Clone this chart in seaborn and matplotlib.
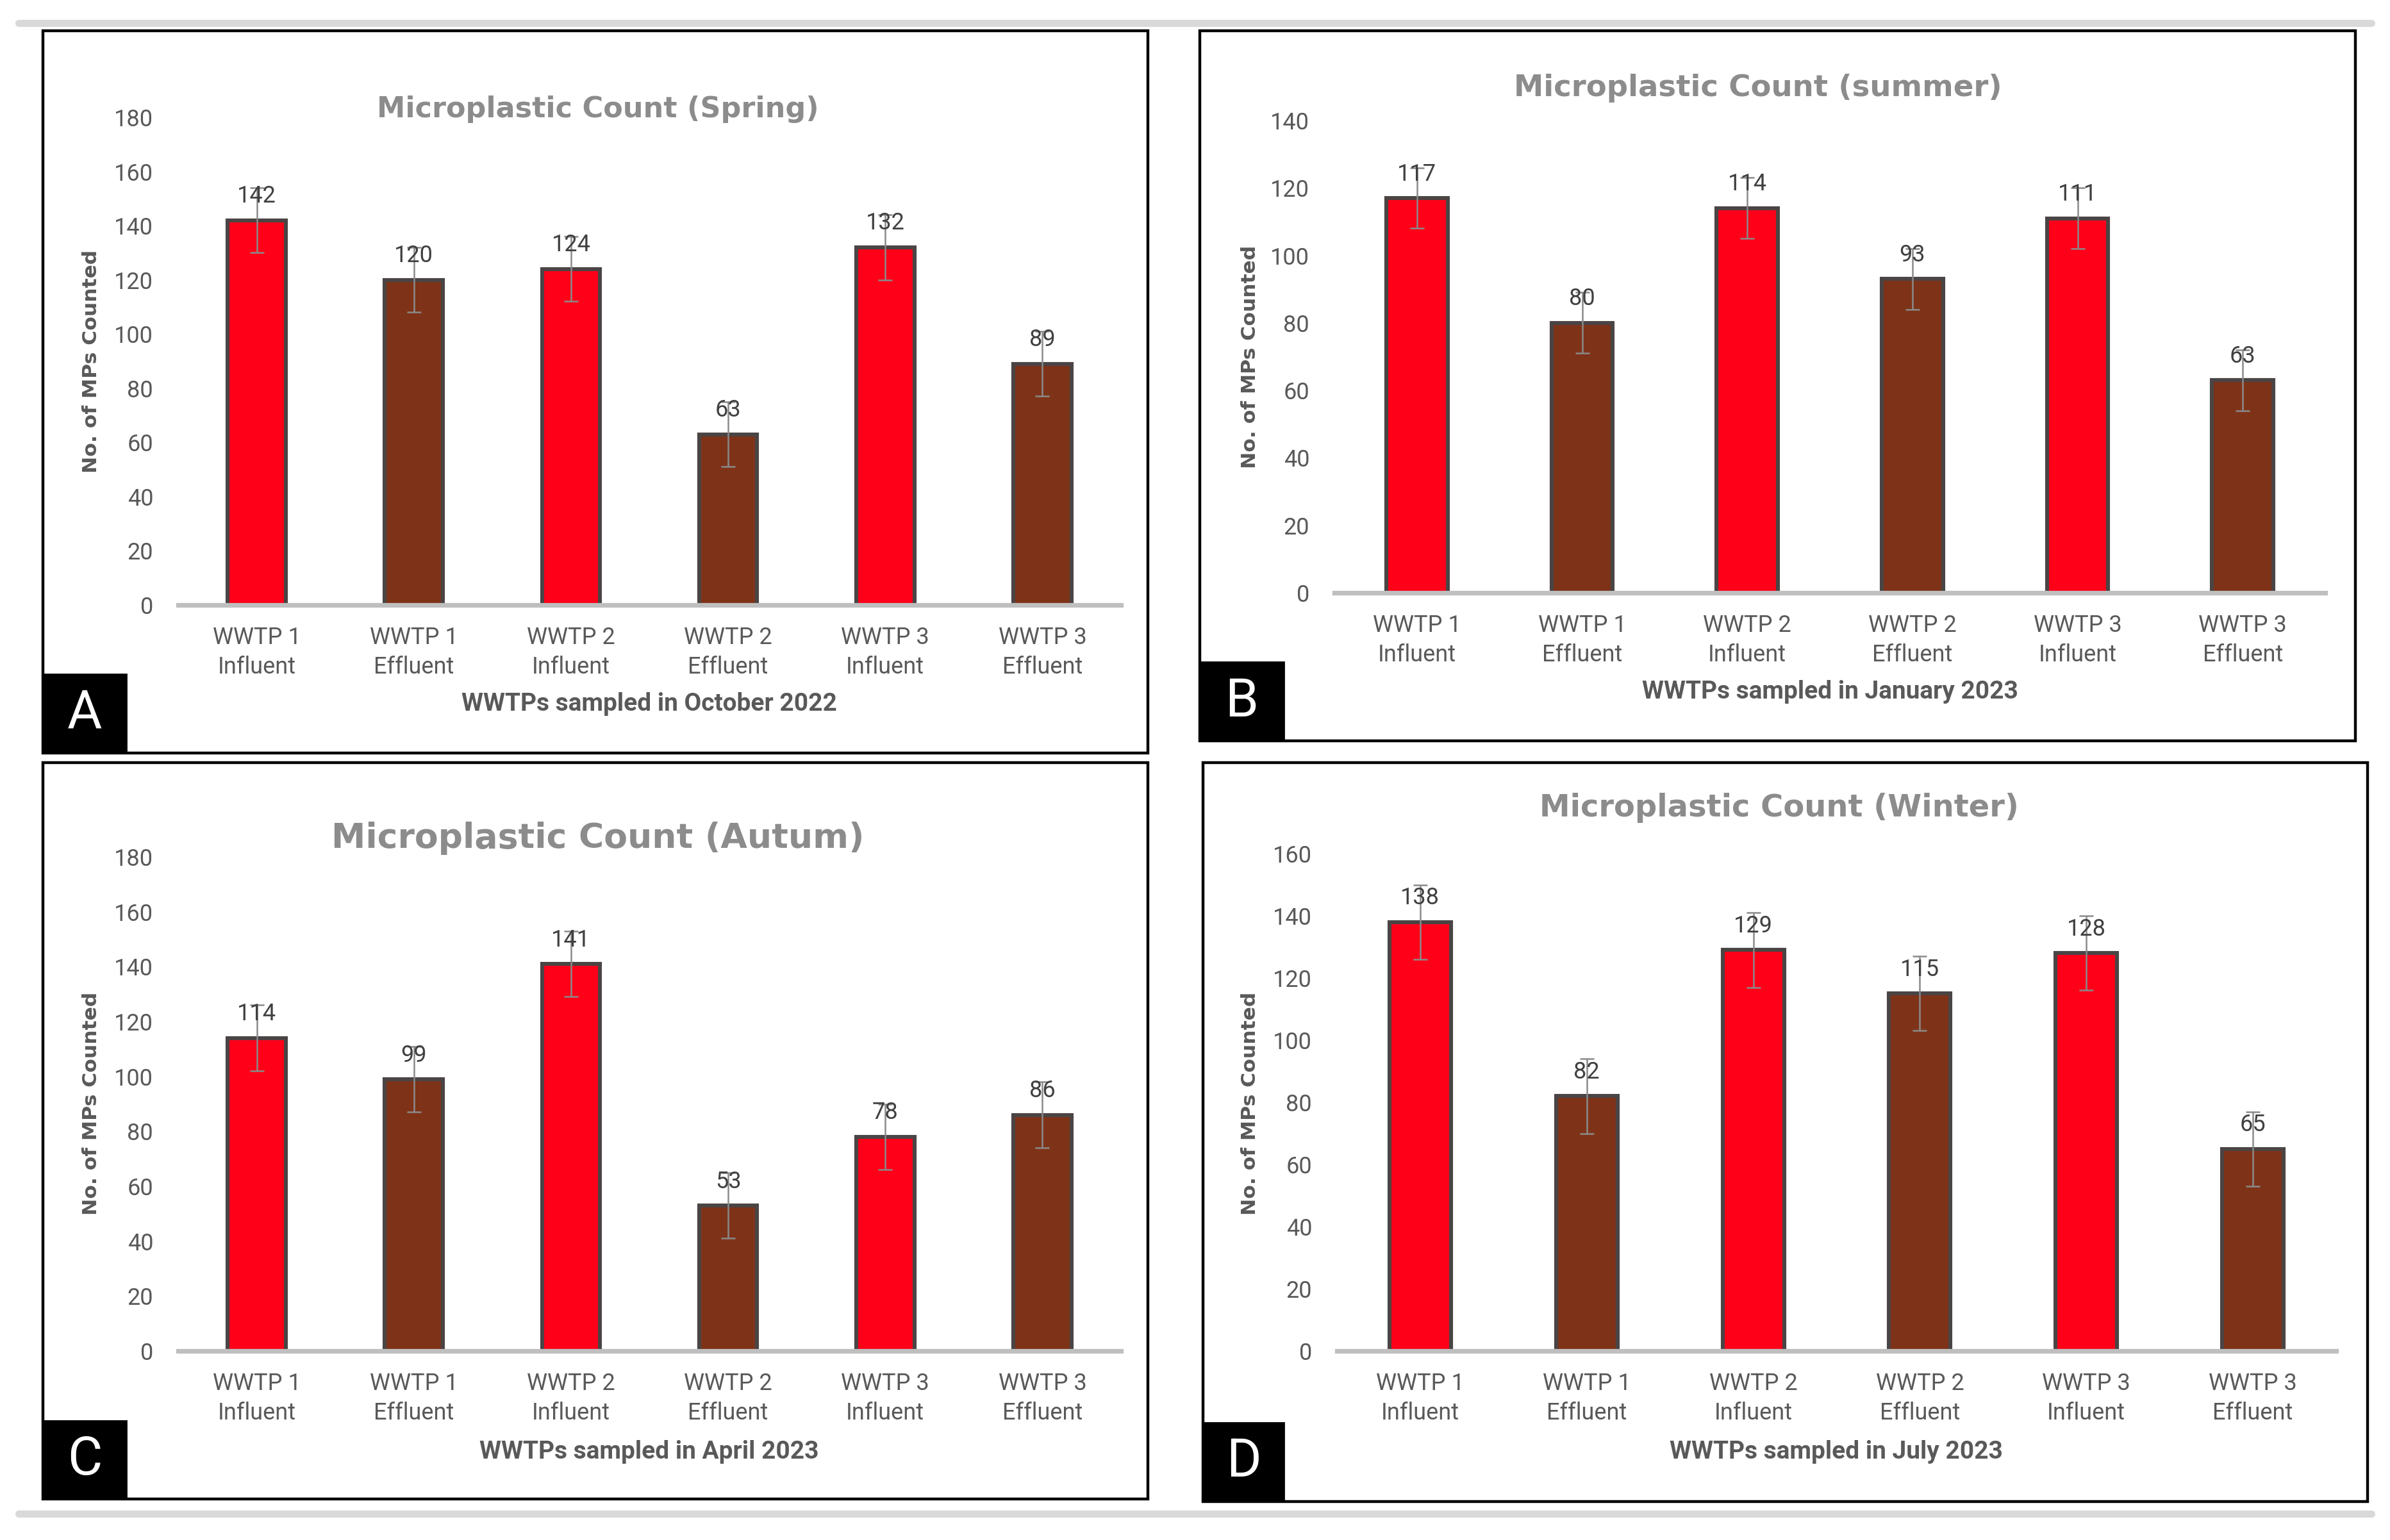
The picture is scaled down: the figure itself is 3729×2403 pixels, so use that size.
import matplotlib
matplotlib.use("Agg")
import matplotlib.pyplot as plt
import seaborn as sns
import pandas as pd
from matplotlib import font_manager
from matplotlib.patches import Rectangle
from matplotlib.lines import Line2D

# ---------------- data ----------------
categories = ["WWTP 1\nInfluent", "WWTP 1\nEffluent", "WWTP 2\nInfluent",
              "WWTP 2\nEffluent", "WWTP 3\nInfluent", "WWTP 3\nEffluent"]
sample_type = ["Influent", "Effluent", "Influent", "Effluent", "Influent", "Effluent"]

spring_counts = [142, 120, 124, 63, 132, 89]
spring_err = [12, 12, 12, 12, 12, 12]
summer_counts = [117, 80, 114, 93, 111, 63]
summer_err = [9, 9, 9, 9, 9, 9]
autumn_counts = [114, 99, 141, 53, 78, 86]
autumn_err = [12, 12, 12, 12, 12, 12]
winter_counts = [138, 82, 129, 115, 128, 65]
winter_err = [12, 12, 12, 12, 12, 12]

titles = ["Microplastic Count (Spring)", "Microplastic Count (summer)",
          "Microplastic Count (Autum)", "Microplastic Count (Winter)"]
xlabels = ["WWTPs sampled in October 2022", "WWTPs sampled in January 2023",
           "WWTPs sampled in April 2023", "WWTPs sampled in July 2023"]
ylabel = "No. of MPs Counted"
panel_letters = ["A", "B", "C", "D"]
y_max = [180, 140, 180, 160]

# ---------------- style ----------------
sns.set_theme(style="white")
avail = {f.name for f in font_manager.fontManager.ttflist}
narrow = "Liberation Sans Narrow" if "Liberation Sans Narrow" in avail else "Roboto"
plt.rcParams["font.family"] = [narrow, "DejaVu Sans"]

palette = {"Influent": "#FF0019", "Effluent": "#7E3318"}

W, H, DPI = 3730, 2403, 200
fig = plt.figure(figsize=(W / DPI, H / DPI), dpi=DPI)
fig.patch.set_facecolor("white")


def frac_rect(x0, y0, x1, y1):
    return [x0 / W, 1 - y1 / H, (x1 - x0) / W, (y1 - y0) / H]


def fx(x):
    return x / W


def fy(y):
    return 1 - y / H


# gray separator lines (screenshot page borders)
fig.add_artist(Line2D([fx(29), fx(3700)], [fy(36), fy(36)], color="#d9d9d9", lw=4,
                      transform=fig.transFigure))
fig.add_artist(Line2D([fx(29), fx(3700)], [fy(2362), fy(2362)], color="#d9d9d9", lw=4,
                      transform=fig.transFigure))

panels = [
    dict(counts=spring_counts, err=spring_err,
         frame=(67, 48, 1791, 1175), axes=(278, 183, 1749, 944),
         title=(933, 171, 16), xlab=(1013, 1099), ylab=(143, 564),
         box=(67, 1052, 197, 1175)),
    dict(counts=summer_counts, err=summer_err,
         frame=(1872, 48, 3675, 1156), axes=(2082, 188, 3628, 925),
         title=(2743, 138, 16.8), xlab=(2855, 1080), ylab=(1951, 557),
         box=(1872, 1033, 2003, 1156)),
    dict(counts=autumn_counts, err=autumn_err,
         frame=(67, 1190, 1791, 2339), axes=(278, 1337, 1749, 2108),
         title=(933, 1308, 19.3), xlab=(1013, 2265), ylab=(143, 1722),
         box=(67, 2217, 197, 2339)),
    dict(counts=winter_counts, err=winter_err,
         frame=(1877, 1190, 3694, 2343), axes=(2086, 1332, 3645, 2108),
         title=(2776, 1261, 17.3), xlab=(2865, 2265), ylab=(1951, 1722),
         box=(1877, 2220, 2003, 2343)),
]

for i, p in enumerate(panels):
    # panel frame
    x0, y0, x1, y1 = p["frame"]
    fig.add_artist(Rectangle((fx(x0), fy(y1)), (x1 - x0) / W, (y1 - y0) / H,
                             transform=fig.transFigure, fill=False,
                             edgecolor="black", lw=1.6, zorder=5))

    ax = fig.add_axes(frac_rect(*p["axes"]))
    df = pd.DataFrame({"site": categories, "count": p["counts"],
                       "type": sample_type, "err": p["err"]})
    sns.barplot(data=df, x="site", y="count", hue="type", palette=palette,
                dodge=False, width=0.37, legend=False, ax=ax,
                edgecolor="#4a4444", linewidth=2.2, saturation=1)
    xs = ax.get_xticks()
    ax.errorbar(xs, df["count"], yerr=df["err"], fmt="none", ecolor="#8a8a8a",
                elinewidth=0.9, capsize=4, capthick=0.9, zorder=4)
    for xv, v in zip(xs, df["count"]):
        ax.annotate(str(v), (xv, v), xytext=(0, 7), textcoords="offset points",
                    ha="center", va="bottom", fontsize=13, color="#404040",
                    zorder=5)

    ax.set_ylim(0, y_max[i])
    ax.set_xlim(-0.5, 5.5)
    ax.set_yticks(range(0, y_max[i] + 1, 20))
    ax.set_xlabel("")
    ax.set_ylabel("")
    for s in ["top", "right", "left"]:
        ax.spines[s].set_visible(False)
    ax.spines["bottom"].set_color("#bfbfbf")
    ax.spines["bottom"].set_linewidth(2.6)
    ax.tick_params(axis="both", length=0, labelsize=13, labelcolor="#595959")
    ax.tick_params(axis="y", pad=14)
    ax.tick_params(axis="x", pad=12)
    for t in ax.get_xticklabels():
        t.set_linespacing(1.35)
    ax.set_facecolor("none")

    # title
    tx, ty, ts = p["title"]
    fig.text(fx(tx), fy(ty), titles[i], ha="center", va="center",
             fontsize=ts, fontweight="bold", color="#8c8c8c",
             family=["DejaVu Sans"])
    # x label
    lx, ly = p["xlab"]
    fig.text(fx(lx), fy(ly), xlabels[i], ha="center", va="center",
             fontsize=14, fontweight="bold", color="#595959")
    # y label
    yx, yy = p["ylab"]
    fig.text(fx(yx), fy(yy), ylabel, ha="center", va="center", rotation=90,
             fontsize=11.3, fontweight="bold", color="#595959",
             family=["DejaVu Sans"])
    # panel letter box
    bx0, by0, bx1, by1 = p["box"]
    fig.add_artist(Rectangle((fx(bx0), fy(by1)), (bx1 - bx0) / W, (by1 - by0) / H,
                             transform=fig.transFigure, facecolor="black",
                             edgecolor="black", zorder=6))
    fig.text(fx((bx0 + bx1) / 2), fy((by0 + by1) / 2), panel_letters[i],
             ha="center", va="center", fontsize=30, color="white", zorder=7)

fig.savefig("out.png", dpi=DPI, facecolor="white")
